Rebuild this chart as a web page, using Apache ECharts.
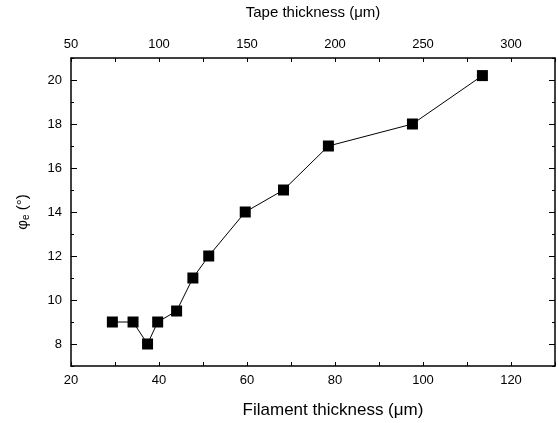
<!DOCTYPE html>
<html><head><meta charset="utf-8">
<script src="https://cdn.jsdelivr.net/npm/echarts@6/dist/echarts.min.js"></script>
<style>html,body{margin:0;padding:0;background:#fff}#c{width:558px;height:423px}</style>
</head><body><div id="c"></div>
<script>
var filament = [29.4, 34.1, 37.4, 39.7, 44.0, 47.7, 51.3, 59.6, 68.3, 78.5, 97.6, 113.5];
var phi = [9, 9, 8, 9, 9.5, 11, 12, 14, 15, 17, 18, 20.2];
var bottomTicks = [20, 40, 60, 80, 100, 120];
var topTicks = [50, 100, 150, 200, 250, 300];
var yTicks = [8, 10, 12, 14, 16, 18, 20];

var font = 'Liberation Sans, Arial, sans-serif';
var axisLine = {show: true, lineStyle: {color: '#000', width: 1.5}};
function yMajor(pos) {
  return {
    type: 'value', position: pos, min: 7, max: 21,
    axisLine: {show: false}, splitLine: {show: false},
    axisTick: {show: true, inside: true, length: 6, customValues: yTicks, lineStyle: {color: '#000'}},
    axisLabel: {show: false}
  };
}
var chart = echarts.init(document.getElementById('c'));
chart.setOption({
  animation: false,
  grid: {left: 71, right: 3, top: 58, bottom: 57, outerBoundsMode: 'none', containLabel: false},
  xAxis: [{
    type: 'value', position: 'bottom', min: 20, max: 130, interval: 10,
    name: 'Filament thickness (\u03bcm)', nameLocation: 'middle', nameGap: 36,
    nameTextStyle: {fontFamily: font, fontSize: 17, color: '#000', padding: [0, 0, 0, 40]},
    axisLine: axisLine, splitLine: {show: false},
    axisTick: {inside: true, length: 4, lineStyle: {color: '#000'}},
    axisLabel: {fontFamily: font, fontSize: 13, color: '#000', margin: 8,
      formatter: function (v) { return bottomTicks.indexOf(v) >= 0 ? String(v) : ''; }}
  }, {
    type: 'value', position: 'top', min: 50, max: 325, interval: 25,
    name: 'Tape thickness (\u03bcm)', nameLocation: 'middle', nameGap: 38,
    nameTextStyle: {fontFamily: font, fontSize: 15, color: '#000'},
    axisLine: axisLine, splitLine: {show: false},
    axisTick: {inside: true, length: 4, lineStyle: {color: '#000'}},
    axisLabel: {fontFamily: font, fontSize: 13, color: '#000', margin: 7,
      formatter: function (v) { return topTicks.indexOf(v) >= 0 ? String(v) : ''; }}
  }],
  yAxis: [{
    type: 'value', position: 'left', min: 7, max: 21, interval: 1,
    name: '\u03c6{sub|e} (\u00b0)', nameLocation: 'middle', nameGap: 40, nameRotate: 90,
    nameTextStyle: {fontFamily: font, fontSize: 15, color: '#000',
      rich: {sub: {fontFamily: font, fontSize: 10, color: '#000', verticalAlign: 'bottom', padding: [6, 0, 0, 0]}}},
    axisLine: axisLine, splitLine: {show: false},
    axisTick: {inside: true, length: 3, lineStyle: {color: '#000'}},
    axisLabel: {fontFamily: font, fontSize: 13, color: '#000', margin: 9,
      formatter: function (v) { return yTicks.indexOf(v) >= 0 ? String(v) : ''; }}
  }, {
    type: 'value', position: 'right', min: 7, max: 21, interval: 1,
    axisLine: axisLine, splitLine: {show: false},
    axisTick: {inside: true, length: 3, lineStyle: {color: '#000'}},
    axisLabel: {show: false}
  }, yMajor('left'), yMajor('right')],
  series: [{
    type: 'line', xAxisIndex: 0, yAxisIndex: 0,
    data: filament.map(function (x, i) { return [x, phi[i]]; }),
    symbol: 'rect', symbolSize: 11,
    itemStyle: {color: '#000'},
    lineStyle: {color: '#000', width: 1}
  }]
});
</script></body></html>
